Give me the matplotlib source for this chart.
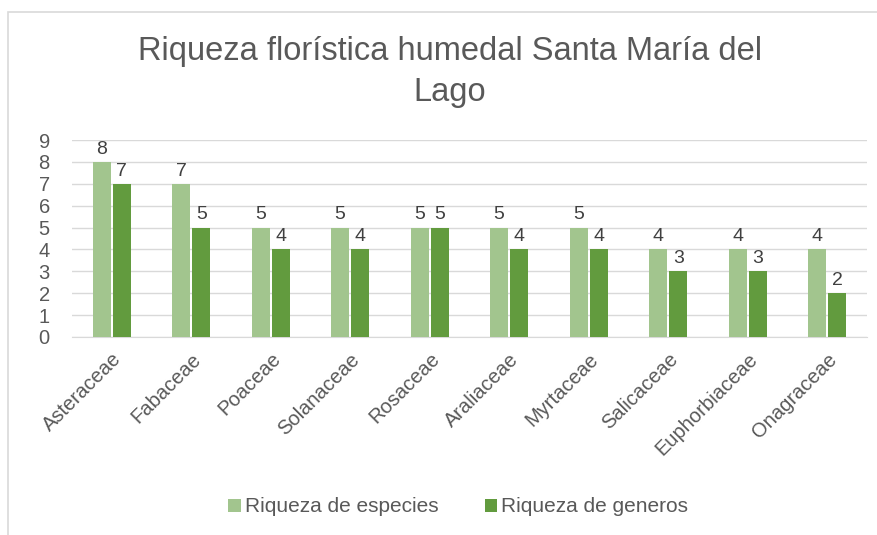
import matplotlib

matplotlib.use("Agg")
import matplotlib.pyplot as plt
import numpy as np
from matplotlib.patches import Rectangle

plt.rcParams["font.family"] = ["Liberation Sans", "DejaVu Sans"]

familias = [
    "Asteraceae", "Fabaceae", "Poaceae", "Solanaceae", "Rosaceae",
    "Araliaceae", "Myrtaceae", "Salicaceae", "Euphorbiaceae", "Onagraceae",
]
especies = [8, 7, 5, 5, 5, 5, 5, 4, 4, 4]
generos = [7, 5, 4, 4, 5, 4, 4, 3, 3, 2]

C_ESP = "#a2c58e"
C_GEN = "#629b3e"
TXT = "#595959"

fig = plt.figure(figsize=(8.78, 5.35), dpi=100)
ax = fig.add_axes([72 / 878, 1 - 337 / 535, 795 / 878, 197 / 535])

# light frame around the chart area
fig.patches.append(Rectangle((8 / 878, -0.01), 1.0, 1 - 12 / 535 + 0.01,
                             transform=fig.transFigure, fill=False,
                             edgecolor="#d9d9d9", linewidth=1.2))

x = np.arange(len(familias))
w = 0.225
gap = 0.03
b1 = ax.bar(x - w / 2 - gap / 2, especies, w, color=C_ESP, label="Riqueza de especies", zorder=3)
b2 = ax.bar(x + w / 2 + gap / 2, generos, w, color=C_GEN, label="Riqueza de generos", zorder=3)
for bars in (b1, b2):
    ax.bar_label(bars, padding=3, fontsize=14, color="#404040")

ax.set_xlim(-0.5, len(familias) - 0.5)
ax.set_ylim(0, 9)
ax.set_yticks(range(10))
ax.yaxis.grid(True, color="#d9d9d9", linewidth=1, zorder=0)
ax.tick_params(axis="y", length=0, labelsize=14.5, labelcolor=TXT, pad=16)
ax.tick_params(axis="x", length=0, labelsize=14.5, labelcolor=TXT, pad=9)
ax.set_xticks(x)
ax.set_xticklabels(familias, rotation=45, ha="right", rotation_mode="anchor")
for s in ("top", "right", "left"):
    ax.spines[s].set_visible(False)
ax.spines["bottom"].set_color("#d9d9d9")

fig.text(0.512, 1 - 72 / 535, "Riqueza florística humedal Santa María del\nLago",
         ha="center", va="center", fontsize=23.5, color=TXT, linespacing=1.38)

fig.legend(handles=[b1, b2], loc="center", bbox_to_anchor=(0.522, 1 - 507 / 535),
           ncol=2, frameon=False, fontsize=15, labelcolor=TXT,
           handlelength=0.6, handleheight=0.6, handletextpad=0.2, columnspacing=2.2)

fig.savefig("out.png", dpi=100)
